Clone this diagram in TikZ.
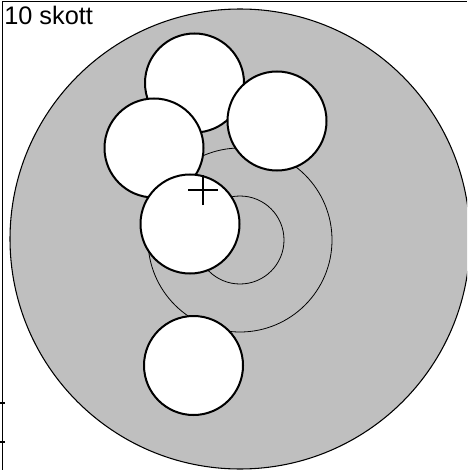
\documentclass[tikz,border=0pt]{standalone}
\usepackage{fontspec}
\setmainfont{Liberation Sans}
\usetikzlibrary{positioning}
\definecolor{targetgray}{gray}{0.75}
\tikzset{
  hole/.style={draw=black,fill=white,line width=1.5pt},
  ring/.style={draw=black,line width=0.6pt},
}
\begin{document}
\begin{tikzpicture}[x=0.75pt,y=-0.75pt]
          \useasboundingbox (0,0) rectangle (467,470);
          \clip (0,0) rectangle (467,470);
          % target face
          \draw[fill=targetgray,line width=0.8pt] (240,239) circle (230);
          \draw[ring] (240,240) circle (92);
          \draw[ring] (240,240) circle (44);
          % the shots
          \draw[hole] (194.5,83) circle (49.5);
          \draw[hole] (277,121) circle (49.5);
          \draw[hole] (154,148) circle (49.5);
          \draw[hole] (190,224) circle (49.5);
          \draw[hole] (193.5,365.5) circle (49.5);
          % aim point
          \coordinate (aim) at (203,190);
          \draw[line width=0.9pt] ([xshift=-15*0.75pt]aim) -- ([xshift=15*0.75pt]aim);
          \draw[line width=0.9pt] ([yshift=-15*0.75pt]aim) -- ([yshift=15*0.75pt]aim);
          % frame and ticks
          \draw[line width=1.2pt] (2.5,470) -- (2.5,1.5) -- (467,1.5);
          \draw[line width=1pt] (0,403) -- (5,403);
          \draw[line width=1pt] (0,442) -- (5,442);
          % label
          \node[anchor=base west,inner sep=0pt,font=\fontsize{19}{22}\selectfont] (shots) at (4,25) {10 skott};
\end{tikzpicture}
\end{document}
